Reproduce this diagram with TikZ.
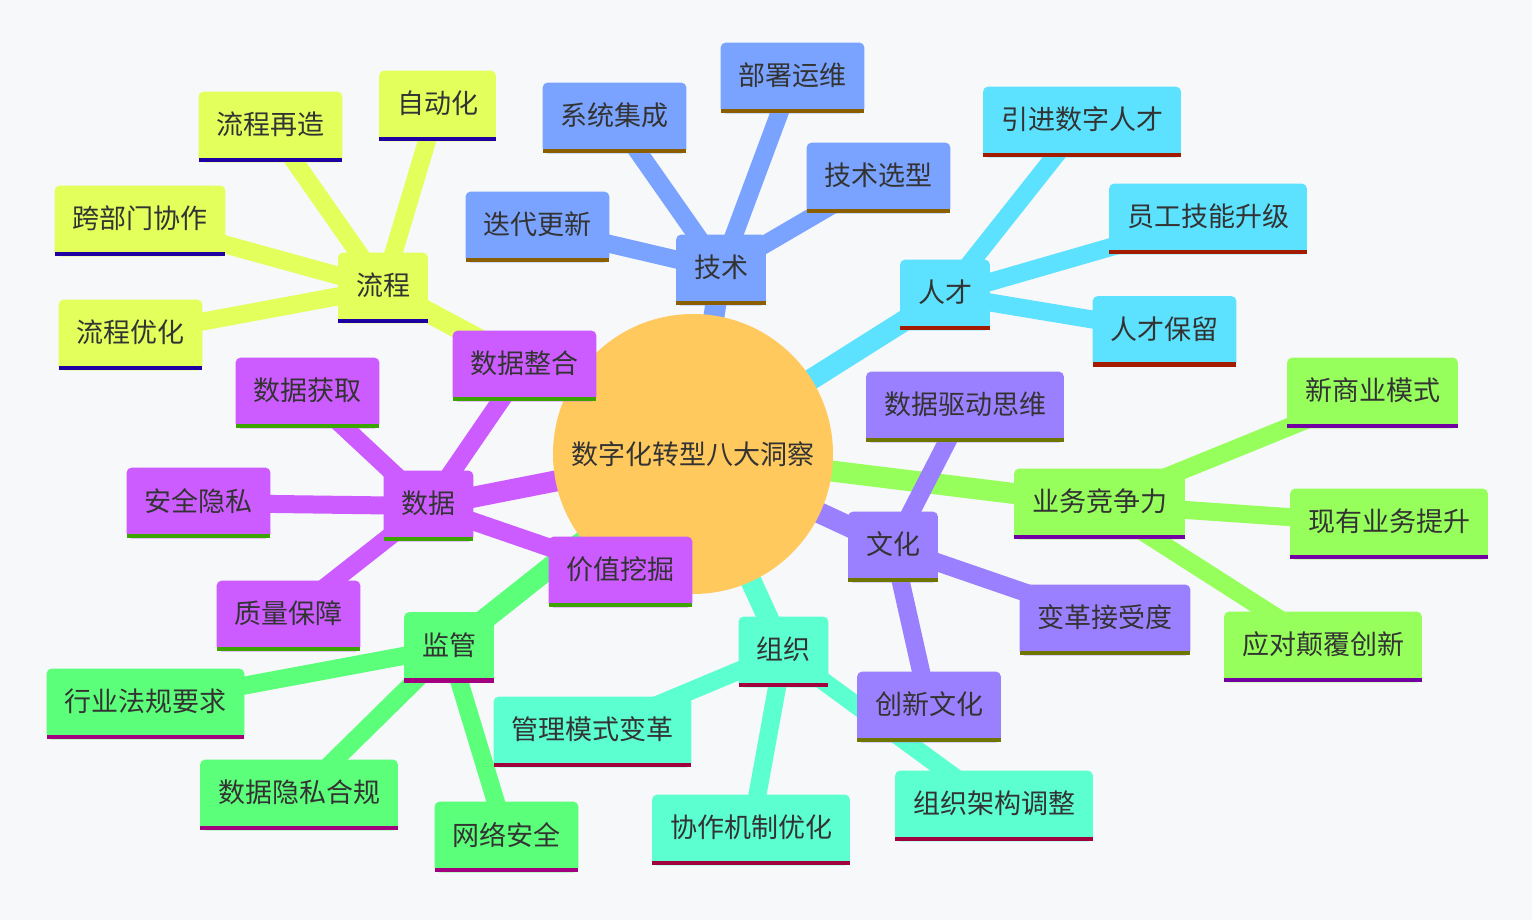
\documentclass[tikz,border=0pt]{standalone}
\usepackage{fontspec}
\newfontfamily\cjk{Noto Sans CJK SC}
\pgfdeclarelayer{bg}
\pgfdeclarelayer{edges}
\pgfdeclarelayer{boxes}
\pgfsetlayers{bg,edges,boxes,main}
\definecolor{paper}{HTML}{F7F8FA}
\definecolor{ink}{HTML}{333333}
\definecolor{rootc}{HTML}{FFC95E}
\definecolor{techc}{HTML}{7AA3FF}   \definecolor{techb}{HTML}{8B5E00}
\definecolor{talc}{HTML}{5CE2FF}    \definecolor{talb}{HTML}{A31C00}
\definecolor{bizc}{HTML}{96FF5C}    \definecolor{bizb}{HTML}{7200A3}
\definecolor{culc}{HTML}{9A80FF}    \definecolor{culb}{HTML}{6F7600}
\definecolor{orgc}{HTML}{5CFFD0}    \definecolor{orgb}{HTML}{A3003E}
\definecolor{regc}{HTML}{5CFF7A}    \definecolor{regb}{HTML}{A3007F}
\definecolor{datc}{HTML}{CC5CFF}    \definecolor{datb}{HTML}{3CA300}
\definecolor{proc}{HTML}{E2FF5C}    \definecolor{prob}{HTML}{1E00A3}
% box with rounded top corners and a coloured bar at the bottom
\newcommand{\mmbox}[5]{%
  \node[mmtext] (#1) at (#2) {\raisebox{1.2pt}[\height][\depth]{#3}};
  \begin{pgfonlayer}{boxes}
    \fill[#4, rounded corners=2.5pt] (#1.south west) rectangle (#1.north east);
    \fill[#4] (#1.south west) rectangle (#1.east);
    \fill[#5] (#1.south west) rectangle ([yshift=2.3pt]#1.south east);
  \end{pgfonlayer}}
\begin{document}
\begin{tikzpicture}[x=0.5pt, y=-0.5pt,
    mmtext/.style={font=\cjk\fontsize{13.5}{16}\selectfont, text=ink,
      minimum height=35pt, inner xsep=8.75pt, inner ysep=0pt},
    rootedge/.style={line width=10.5pt},
    leafedge/.style={line width=9pt}]
  \begin{pgfonlayer}{bg}
    \fill[paper] (0,0) rectangle (1532,920);
  \end{pgfonlayer}
  % centre
  \node[mmtext, circle, minimum size=140pt] (root) at (693,454) {数字化转型八大洞察};
  \begin{pgfonlayer}{boxes}
    \fill[rootc] (root.center) circle (140);
  \end{pgfonlayer}
  % technology
  \mmbox{tech}{721,270}{技术}{techc}{techb}
  \mmbox{sysint}{614.5,118}{系统集成}{techc}{techb}
  \mmbox{deploy}{792.5,78}{部署运维}{techc}{techb}
  \mmbox{select}{878.5,178}{技术选型}{techc}{techb}
  \mmbox{iterate}{537.5,227}{迭代更新}{techc}{techb}
  % talent
  \mmbox{talent}{945,295}{人才}{talc}{talb}
  \mmbox{hire}{1082,122}{引进数字人才}{talc}{talb}
  \mmbox{upskill}{1208,219}{员工技能升级}{talc}{talb}
  \mmbox{retain}{1164.5,331.5}{人才保留}{talc}{talb}
  % business
  \mmbox{biz}{1099.5,504}{业务竞争力}{bizc}{bizb}
  \mmbox{newmodel}{1372.5,393}{新商业模式}{bizc}{bizb}
  \mmbox{improve}{1389,524}{现有业务提升}{bizc}{bizb}
  \mmbox{disrupt}{1323,647}{应对颠覆创新}{bizc}{bizb}
  % culture
  \mmbox{culture}{893,547}{文化}{culc}{culb}
  \mmbox{mindset}{965,407}{数据驱动思维}{culc}{culb}
  \mmbox{accept}{1105,620}{变革接受度}{culc}{culb}
  \mmbox{innov}{929,707}{创新文化}{culc}{culb}
  % organisation
  \mmbox{org}{783.5,652}{组织}{orgc}{orgb}
  \mmbox{mgmt}{592.5,732}{管理模式变革}{orgc}{orgb}
  \mmbox{collab}{751,830}{协作机制优化}{orgc}{orgb}
  \mmbox{struct}{994,806}{组织架构调整}{orgc}{orgb}
  % regulation
  \mmbox{reg}{449,647.5}{监管}{regc}{regb}
  \mmbox{law}{145.5,704}{行业法规要求}{regc}{regb}
  \mmbox{privacy}{299,795}{数据隐私合规}{regc}{regb}
  \mmbox{cyber}{506.5,837}{网络安全}{regc}{regb}
  % data
  \mmbox{data}{428.5,506}{数据}{datc}{datb}
  \mmbox{merge}{524.5,366}{数据整合}{datc}{datb}
  \mmbox{acquire}{307.5,393}{数据获取}{datc}{datb}
  \mmbox{secure}{198.5,503}{安全隐私}{datc}{datb}
  \mmbox{quality}{288.5,616}{质量保障}{datc}{datb}
  \mmbox{value}{620.5,572}{价值挖掘}{datc}{datb}
  % process
  \mmbox{proc}{383,288}{流程}{proc}{prob}
  \mmbox{reeng}{270.5,127}{流程再造}{proc}{prob}
  \mmbox{auto}{437.5,106}{自动化}{proc}{prob}
  \mmbox{cross}{140,221}{跨部门协作}{proc}{prob}
  \mmbox{optim}{130.5,335}{流程优化}{proc}{prob}
  % connectors
  \begin{pgfonlayer}{edges}
    \foreach \m/\c in {tech/techc, talent/talc, biz/bizc, culture/culc,
                       org/orgc, reg/regc, data/datc, proc/proc}
      \draw[rootedge, \c] (root.center) -- (\m.center);
    \foreach \m/\l/\c in {tech/sysint/techc, tech/deploy/techc, tech/select/techc, tech/iterate/techc,
                          talent/hire/talc, talent/upskill/talc, talent/retain/talc,
                          biz/newmodel/bizc, biz/improve/bizc, biz/disrupt/bizc,
                          culture/mindset/culc, culture/accept/culc, culture/innov/culc,
                          org/mgmt/orgc, org/collab/orgc, org/struct/orgc,
                          reg/law/regc, reg/privacy/regc, reg/cyber/regc,
                          data/merge/datc, data/acquire/datc, data/secure/datc, data/quality/datc, data/value/datc,
                          proc/reeng/proc, proc/auto/proc, proc/cross/proc, proc/optim/proc}
      \draw[leafedge, \c] (\m.center) -- (\l.center);
  \end{pgfonlayer}
\end{tikzpicture}
\end{document}
